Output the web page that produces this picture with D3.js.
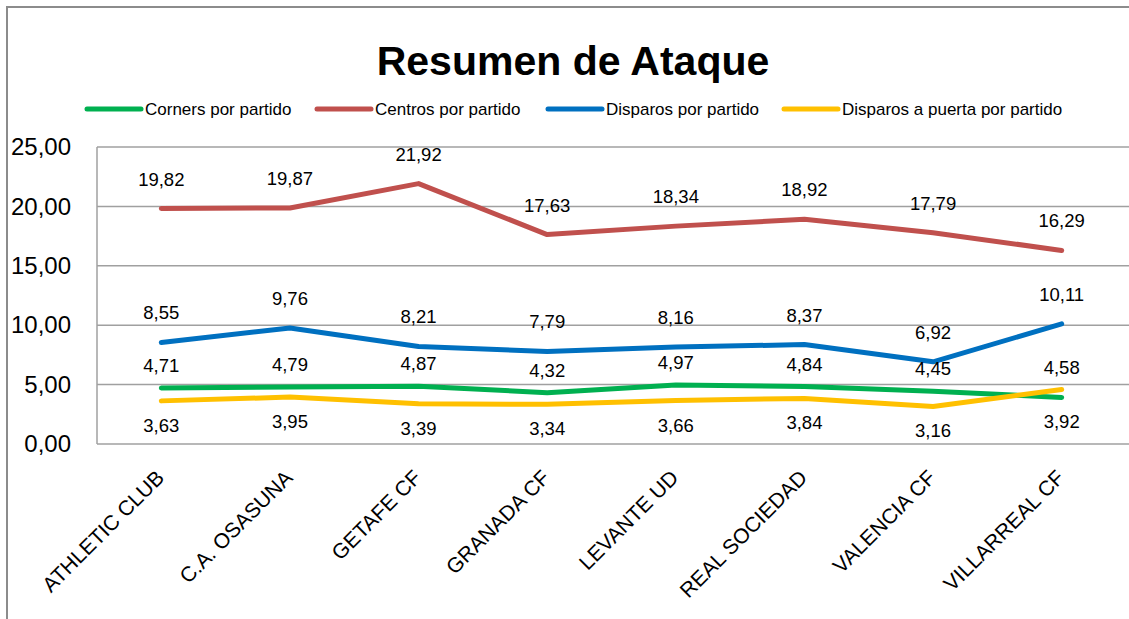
<!DOCTYPE html>
<html>
<head>
<meta charset="utf-8">
<script src="https://cdn.jsdelivr.net/npm/d3@7"></script>
<style>
  body { margin: 0; background: #fff; }
  svg { display: block; font-family: 'Liberation Sans', Arial, sans-serif; }
</style>
</head>
<body>
<svg id="chart" width="1129" height="619"></svg>
<script>
const categories = ['ATHLETIC CLUB', 'C.A. OSASUNA', 'GETAFE CF', 'GRANADA CF', 'LEVANTE UD', 'REAL SOCIEDAD', 'VALENCIA CF', 'VILLARREAL CF'];
const corners = [4.71, 4.79, 4.87, 4.32, 4.97, 4.84, 4.45, 3.92];
const centros = [19.82, 19.87, 21.92, 17.63, 18.34, 18.92, 17.79, 16.29];
const disparos = [8.55, 9.76, 8.21, 7.79, 8.16, 8.37, 6.92, 10.11];
const puerta = [3.63, 3.95, 3.39, 3.34, 3.66, 3.84, 3.16, 4.58];
const yTicks = [0, 5, 10, 15, 20, 25];

const series = [
    { name: 'Corners por partido', values: corners, color: '#00B050', pair: puerta },
    { name: 'Centros por partido', values: centros, color: '#C0504D' },
    { name: 'Disparos por partido', values: disparos, color: '#0070C0' },
    { name: 'Disparos a puerta por partido', values: puerta, color: '#FFC000', pair: corners },
];

const fmt = v => d3.format('.2f')(v).replace('.', ',');

const svg = d3.select('#chart');

// outer frame (right and bottom edges are cut off in the original)
svg.append('rect')
    .attr('x', 7).attr('y', 7)
    .attr('width', 1140).attr('height', 640)
    .attr('fill', 'none')
    .attr('stroke', '#8c8c8c')
    .attr('stroke-width', 2);

svg.append('text')
    .attr('x', 573).attr('y', 75)
    .attr('text-anchor', 'middle')
    .style('font-size', '41px')
    .style('font-weight', 'bold')
    .text('Resumen de Ataque');

const plot = { left: 97, right: 1126, top: 147, bottom: 444 };

const x = d3.scaleBand()
    .domain(categories)
    .range([plot.left, plot.right]);

const y = d3.scaleLinear()
    .domain([0, 25])
    .range([plot.bottom, plot.top]);

// gridlines
svg.append('g')
    .selectAll('line')
    .data(yTicks)
    .join('line')
    .attr('x1', plot.left).attr('x2', 1129)
    .attr('y1', d => y(d)).attr('y2', d => y(d))
    .attr('stroke', '#a0a0a0')
    .attr('stroke-width', 1.5);

svg.append('line')
    .attr('x1', plot.left).attr('x2', plot.left)
    .attr('y1', plot.top).attr('y2', plot.bottom)
    .attr('stroke', '#a0a0a0')
    .attr('stroke-width', 1.5);

// y axis labels
const yAxis = svg.append('g')
    .attr('transform', `translate(${plot.left}, 0)`)
    .call(d3.axisLeft(y).tickValues(yTicks).tickFormat(fmt).tickSize(0).tickPadding(26));
yAxis.select('.domain').remove();
yAxis.selectAll('text')
    .style('font-size', '24px')
    .style('font-family', "'Liberation Sans', Arial, sans-serif")
    .attr('fill', '#000');

// x axis labels
svg.append('g')
    .selectAll('text')
    .data(categories)
    .join('text')
    .attr('transform', d => `translate(${x(d) + x.bandwidth() / 2 + 4}, 479) rotate(-45)`)
    .attr('text-anchor', 'end')
    .style('font-size', '21px')
    .text(d => d);

// legend
const legendX = [87, 317, 548, 784];
const legend = svg.append('g')
    .selectAll('g')
    .data(series)
    .join('g')
    .attr('transform', (d, i) => `translate(${legendX[i]}, 109)`);
legend.append('line')
    .attr('x1', 0).attr('x2', 54)
    .attr('stroke', d => d.color)
    .attr('stroke-width', 5)
    .attr('stroke-linecap', 'round');
legend.append('text')
    .attr('x', 58).attr('y', 6)
    .style('font-size', '17px')
    .text(d => d.name);

// lines
const line = d3.line()
    .x((d, i) => x(categories[i]) + x.bandwidth() / 2)
    .y(d => y(d));

svg.append('g')
    .selectAll('path')
    .data(series)
    .join('path')
    .attr('d', d => line(d.values))
    .attr('fill', 'none')
    .attr('stroke', d => d.color)
    .attr('stroke-width', 5)
    .attr('stroke-linecap', 'round')
    .attr('stroke-linejoin', 'round');

// data labels
series.forEach(s => {
    svg.append('g')
        .selectAll('text')
        .data(s.values)
        .join('text')
        .attr('x', (d, i) => x(categories[i]) + x.bandwidth() / 2)
        .attr('y', (d, i) => {
            if (!s.pair) return y(d) - 23;
            return d < s.pair[i] ? y(d) + 31 : y(d) - 16;
        })
        .attr('text-anchor', 'middle')
        .style('font-size', '18.5px')
        .text(d => fmt(d));
});
</script>
</body>
</html>
